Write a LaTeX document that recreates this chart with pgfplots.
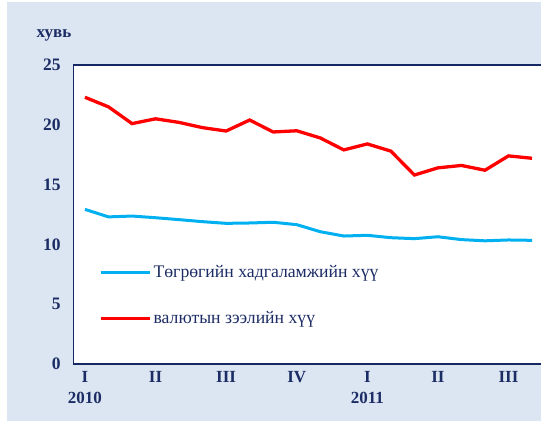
\documentclass[border=0pt]{standalone}
\usepackage{pgfplots}
\pgfplotsset{compat=1.18}
\usepackage{fontspec}
\setmainfont{Liberation Serif}
\definecolor{bgc}{RGB}{220,230,242}
\definecolor{navy}{RGB}{28,44,100}
\definecolor{axc}{RGB}{22,40,100}
\definecolor{lblue}{RGB}{0,176,240}
\begin{document}
\begin{tikzpicture}[x=1pt,y=1pt]
\useasboundingbox (0,0) rectangle (541,423);
\fill[bgc] (7,2) rectangle (545,421);
\node[font=\fontsize{17}{20}\selectfont\bfseries, text=navy] at (54,388) {хувь};
\begin{axis}[
  at={(73.2pt,59pt)}, anchor=south west,
  scale only axis, width=470.6pt, height=299pt,
  xmin=-0.5, xmax=19.5, ymin=0, ymax=25,
  axis background/.style={fill=white},
  axis line style={axc, line width=1.3pt},
  major tick length=0pt,
  ytick={0,5,10,15,20,25},
  xtick={0,3,6,9,12,15,18},
  xticklabels={I\\2010,II,III,IV,I\\2011,II,III},
  xticklabel style={align=center, font=\fontsize{17}{21}\selectfont\bfseries, text=navy, inner sep=2pt, yshift=-5pt},
  yticklabel style={font=\fontsize{17.5}{20}\selectfont\bfseries, text=navy, xshift=-9pt},
  /pgf/number format/assume math mode=true,
  legend style={draw=none, fill=none, at={(0.055,0.337)}, anchor=north west,
    font=\fontsize{17.7}{20}\selectfont, text=navy, row sep=28.5pt, inner sep=0pt,
    nodes={inner sep=2pt}},
  legend cell align=left,
  legend image code/.code={\draw[#1] (0pt,0pt) -- (49pt,0pt);},
  clip=false,
]
\addplot[lblue, line width=3pt] coordinates {
(0,12.93) (1,12.3) (2,12.37) (3,12.23) (4,12.07) (5,11.9) (6,11.76) (7,11.79) (8,11.85) (9,11.65)
(10,11.06) (11,10.7) (12,10.76) (13,10.56) (14,10.48) (15,10.64) (16,10.4) (17,10.3) (18,10.37) (19,10.34)};
\addlegendentry{Төгрөгийн хадгаламжийн хүү}
\addplot[red, line width=3.3pt] coordinates {
(0,22.3) (1,21.5) (2,20.1) (3,20.5) (4,20.2) (5,19.76) (6,19.48) (7,20.4) (8,19.4) (9,19.5)
(10,18.9) (11,17.9) (12,18.4) (13,17.8) (14,15.8) (15,16.4) (16,16.6) (17,16.2) (18,17.4) (19,17.2)};
\addlegendentry{валютын зээлийн хүү}
\end{axis}
\end{tikzpicture}
\end{document}
